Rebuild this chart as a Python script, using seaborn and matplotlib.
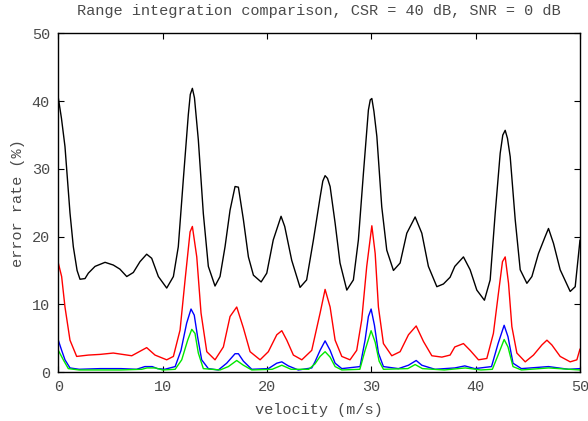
import matplotlib
matplotlib.use("Agg")
import matplotlib.pyplot as plt
import seaborn as sns
import pandas as pd

black_v = [0, 0.3, 0.64, 1.12, 1.44, 1.8, 2.08, 2.56, 2.88, 3.52, 4.48, 5.27, 5.9, 6.56, 7.19, 7.83, 8.47, 8.95,
           9.59, 10.39, 11.03, 11.5, 11.98, 12.46, 12.65, 12.85, 13.05, 13.42, 13.9, 14.38, 15.02, 15.5, 15.98,
           16.46, 16.94, 17.26, 17.74, 18.22, 18.7, 19.44, 19.98, 20.6, 21.35, 21.7, 22.37, 23.17, 23.8, 24.45,
           25.1, 25.35, 25.57, 25.8, 26.05, 26.53, 27.0, 27.65, 28.28, 28.76, 29.24, 29.72, 29.9, 30.05, 30.25,
           30.53, 31.0, 31.48, 32.12, 32.76, 33.4, 34.2, 34.84, 35.47, 36.28, 36.91, 37.55, 38.0, 38.83, 39.47,
           40.11, 40.84, 41.39, 41.87, 42.35, 42.6, 42.83, 43.05, 43.31, 43.79, 44.27, 44.91, 45.39, 46.02,
           46.66, 46.98, 47.46, 48.1, 49.06, 49.54, 50]
black_e = [40.5, 37.5, 33.3, 23.5, 18.5, 15.0, 13.7, 13.8, 14.6, 15.6, 16.2, 15.8, 15.2, 14.1, 14.7, 16.3, 17.4, 16.8,
           14.1, 12.4, 14.1, 18.5, 28.4, 38.0, 41.0, 41.9, 40.5, 34.3, 23.4, 15.6, 12.7, 14.1, 18.5,
           23.9, 27.4, 27.3, 22.5, 17.0, 14.3, 13.3, 14.6, 19.5, 23.0, 21.5, 16.5, 12.5, 13.6, 19.5,
           25.9, 28.2, 29.0, 28.6, 27.4, 22.0, 16.1, 12.1, 13.6, 19.5, 29.3, 38.7, 40.2, 40.4, 38.5,
           34.8, 24.4, 18.0, 15.0, 16.1, 20.5, 22.9, 20.5, 15.6, 12.6, 13.0, 14.0, 15.6, 17.0, 15.1,
           12.1, 10.6, 13.6, 23.4, 32.3, 35.0, 35.7, 34.5, 31.8, 22.5, 15.1, 13.1, 14.1, 17.5,
           20.0, 21.2, 19.0, 15.1, 11.9, 12.6, 19.5]

red_v = [0, 0.32, 0.64, 1.12, 1.76, 2.88, 4.0, 5.27, 7.04, 8.47, 9.27, 10.39, 11.03, 11.67, 12.15, 12.63, 12.85,
         13.27, 13.68, 14.23, 15.02, 15.82, 16.46, 17.1, 17.74, 18.38, 19.34, 20.13, 20.94, 21.42, 21.9, 22.53,
         23.34, 24.29, 25.09, 25.57, 26.05, 26.53, 27.17, 27.96, 28.6, 29.08, 29.56, 30.05, 30.37, 30.68, 31.16,
         31.96, 32.76, 33.56, 34.3, 35.0, 35.8, 36.76, 37.55, 38.0, 38.83, 39.47, 40.27, 41.07, 41.7, 42.18,
         42.57, 42.83, 43.15, 43.47, 43.95, 44.75, 45.54, 46.35, 46.83, 47.3, 48.1, 49.06, 49.7, 50]
red_e = [16.1, 14.1, 9.6, 4.7, 2.3, 2.5, 2.6, 2.8, 2.4, 3.6, 2.5, 1.8, 2.3, 6.2, 13.6, 20.7, 21.5,
         17.0, 8.7, 3.0, 1.8, 3.7, 8.2, 9.6, 6.5, 3.0, 1.8, 3.0, 5.5, 6.1, 4.7, 2.5,
         1.8, 3.2, 8.7, 12.2, 9.6, 4.7, 2.3, 1.8, 3.2, 7.7, 15.6, 21.6, 17.5, 9.6, 4.2,
         2.4, 3.0, 5.5, 6.8, 4.5, 2.4, 2.2, 2.5, 3.7, 4.2, 3.2, 1.8, 2.0, 5.7, 11.6,
         16.3, 17.0, 13.1, 6.7, 2.8, 1.5, 2.5, 4.0, 4.7, 4.0, 2.3, 1.5, 1.8, 3.4]

blue_v = [0, 0.32, 0.64, 1.12, 2.0, 4.0, 6.0, 7.5, 8.3, 9.0, 9.5, 10.2, 11.2, 11.76, 12.3, 12.72, 13.03, 13.35,
          13.74, 14.38, 15.34, 16.14, 16.94, 17.26, 17.74, 18.54, 20.13, 20.94, 21.42, 22.05, 23.0, 24.29, 24.6,
          25.09, 25.57, 26.05, 26.53, 27.17, 28.92, 29.4, 29.72, 29.98, 30.3, 30.68, 31.16, 32.6, 33.56, 34.3,
          34.84, 36.1, 38.0, 38.96, 39.92, 41.52, 42.15, 42.73, 43.1, 43.58, 44.38, 46.98, 48.9, 50]
blue_e = [4.7, 3.2, 1.8, 0.6, 0.4, 0.5, 0.5, 0.4, 0.8, 0.8, 0.5, 0.4, 0.8, 3.2, 7.2, 9.3, 8.4, 5.2,
          1.8, 0.5, 0.3, 1.3, 2.7, 2.7, 1.6, 0.4, 0.5, 1.3, 1.5, 0.9, 0.3, 0.6, 1.5,
          3.2, 4.6, 3.2, 1.3, 0.5, 0.8, 4.7, 8.2, 9.3, 6.9, 2.8, 0.8, 0.5, 1.0, 1.7,
          1.0, 0.4, 0.6, 0.9, 0.5, 0.8, 4.2, 6.9, 5.2, 1.3, 0.5, 0.8, 0.4, 0.5]

green_v = [0, 0.48, 0.96, 2.0, 4.0, 6.0, 8.0, 8.5, 9.3, 10.0, 11.2, 11.83, 12.4, 12.79, 13.1, 13.42, 13.9, 15.5,
           16.3, 17.1, 17.74, 18.54, 20.5, 21.42, 22.3, 24.0, 24.6, 25.09, 25.57, 26.05, 26.53, 27.17, 28.9, 29.4,
           29.98, 30.37, 30.75, 31.16, 33.5, 34.2, 34.9, 37.0, 39.0, 40.5, 41.6, 42.15, 42.73, 43.1, 43.58,
           44.38, 47.0, 50]
green_e = [3.2, 1.8, 0.5, 0.3, 0.3, 0.3, 0.4, 0.6, 0.6, 0.3, 0.4, 1.8, 4.7, 6.3, 5.7, 2.8, 0.5, 0.3,
           0.8, 1.7, 1.0, 0.3, 0.4, 1.0, 0.4, 0.4, 1.2, 2.3, 3.0, 2.2, 0.8, 0.3, 0.4, 3.2,
           6.1, 4.4, 1.6, 0.4, 0.5, 1.1, 0.5, 0.3, 0.6, 0.3, 0.4, 2.5, 4.8, 3.7, 0.8,
           0.3, 0.6, 0.3]

series = [("black", black_v, black_e, "#000000"),
          ("red", red_v, red_e, "#ff0000"),
          ("blue", blue_v, blue_e, "#0000ff"),
          ("green", green_v, green_e, "#00e800")]

title = "Range integration comparison, CSR = 40 dB, SNR = 0 dB"
x_label = "velocity (m/s)"
y_label = "error rate (%)"
x_ticks = [0, 10, 20, 30, 40, 50]
y_ticks = [0, 10, 20, 30, 40, 50]

sns.set_style("ticks")
plt.rcParams["font.family"] = ["Liberation Mono", "DejaVu Sans Mono"]
text_color = "#4a4a4a"

fig = plt.figure(figsize=(5.88, 4.21), dpi=100)
ax = fig.add_axes([58.3 / 588, (421 - 372) / 421, (580 - 58.3) / 588, (372 - 33.5) / 421])

for name, v, e, c in series:
    df = pd.DataFrame({"v": v, "e": e})
    sns.lineplot(data=df, x="v", y="e", ax=ax, color=c, linewidth=1.0, estimator=None, sort=True)

ax.set_xlim(0, 50)
ax.set_ylim(0, 50)
ax.set_xticks(x_ticks)
ax.set_yticks(y_ticks)
ax.tick_params(direction="in", length=4.5, width=0.8, top=True, right=True,
               labelsize=11, labelcolor=text_color, pad=6, color="#000000")
for s in ax.spines.values():
    s.set_visible(True)
    s.set_color("#000000")
    s.set_linewidth(1.0)
ax.set_xlabel(x_label, fontsize=11, color=text_color, labelpad=6)
ax.set_ylabel(y_label, fontsize=11, color=text_color, labelpad=5)
ax.set_title(title, fontsize=11, color=text_color, pad=13)

fig.savefig("out.png", dpi=100)
